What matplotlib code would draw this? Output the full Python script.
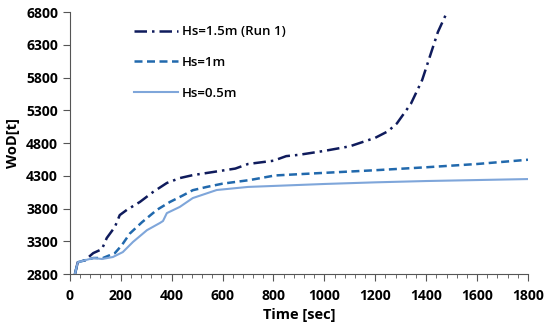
import matplotlib
matplotlib.use("Agg")
import matplotlib.pyplot as plt
from matplotlib.ticker import MultipleLocator

plt.rcParams['font.family'] = ['Open Sans', 'DejaVu Sans']

# Hs=1.5m (Run 1)
t_15 = [20, 31, 59, 92, 126, 145, 177, 196, 224, 275, 326, 381, 432, 483, 550, 600, 650,
        700, 800, 850, 900, 1000, 1100, 1200, 1250, 1285, 1340, 1384, 1446, 1482]
v_15 = [2800, 2980, 3010, 3120, 3180, 3350, 3520, 3700, 3780, 3900, 4050, 4190, 4265, 4310,
        4350, 4380, 4410, 4480, 4530, 4600, 4620, 4680, 4750, 4880, 4980, 5100, 5400, 5760,
        6495, 6800]

# Hs=1m
t_10 = [20, 31, 59, 93, 130, 177, 204, 236, 283, 342, 393, 444, 483, 538, 600, 707, 806,
        1000, 1200, 1400, 1600, 1800]
v_10 = [2800, 2980, 3010, 3045, 3045, 3120, 3240, 3420, 3590, 3780, 3900, 4000, 4080, 4130,
        4180, 4235, 4305, 4345, 4385, 4430, 4480, 4545]

# Hs=0.5m
t_05 = [20, 31, 59, 93, 126, 169, 208, 248, 303, 354, 366, 381, 432, 483, 577, 700, 800,
        1000, 1200, 1400, 1600, 1800]
v_05 = [2800, 2980, 3010, 3045, 3030, 3060, 3135, 3290, 3470, 3580, 3610, 3730, 3825, 3960,
        4083, 4130, 4145, 4175, 4200, 4220, 4235, 4250]

y_ticks = [2800, 3300, 3800, 4300, 4800, 5300, 5800, 6300, 6800]

fig, ax = plt.subplots(figsize=(5.5, 3.29), dpi=100)
fig.subplots_adjust(left=0.127, right=0.96, bottom=0.167, top=0.9635)

ax.plot(t_15, v_15, color="#0f1b5c", lw=1.8, dashes=(5, 2, 1, 2), label="Hs=1.5m (Run 1)")
ax.plot(t_10, v_10, color="#2169ad", lw=1.8, dashes=(3.2, 1.8), label="Hs=1m")
ax.plot(t_05, v_05, color="#7fa6da", lw=1.5, label="Hs=0.5m")

ax.set_xlim(0, 1800)
ax.set_ylim(2800, 6800)
ax.xaxis.set_major_locator(MultipleLocator(200))
ax.xaxis.set_minor_locator(MultipleLocator(40))
ax.set_yticks(y_ticks)

for s in ["top", "right"]:
    ax.spines[s].set_visible(False)
for s in ["left", "bottom"]:
    ax.spines[s].set_color("#555555")

ax.tick_params(axis="both", which="major", direction="out", length=5, color="#555555",
               labelsize=10)
ax.tick_params(axis="x", which="major", pad=6)
ax.tick_params(axis="x", which="minor", direction="out", length=3, color="#555555")
for lab in ax.get_xticklabels() + ax.get_yticklabels():
    lab.set_fontweight("bold")

ax.set_xlabel("Time [sec]", fontsize=10.5, fontweight="bold", labelpad=3)
ax.set_ylabel("WoD[t]", fontsize=10.5, fontweight="bold", labelpad=4)

leg = ax.legend(loc="upper left", bbox_to_anchor=(0.115, 0.995), frameon=False,
                fontsize=9.5, handlelength=3.3, labelspacing=1.35, handletextpad=0.3)
for txt in leg.get_texts():
    txt.set_fontweight("semibold")

fig.savefig("out.png", dpi=100)
plt.close(fig)
